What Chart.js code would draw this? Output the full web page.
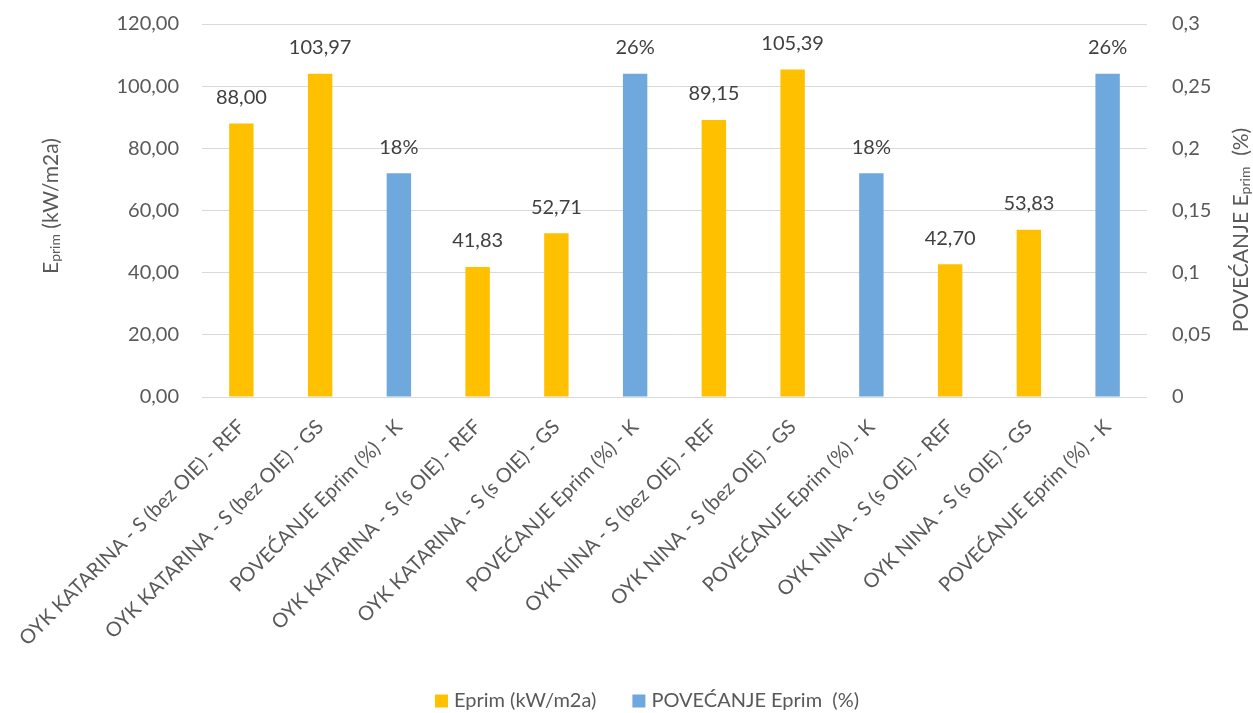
<!DOCTYPE html>
<html>
<head>
<meta charset="utf-8">
<script src="https://cdn.jsdelivr.net/npm/chart.js@4/dist/chart.umd.min.js"></script>
<style>
  html, body { margin: 0; padding: 0; background: #fff; }
  #wrap { width: 1253px; height: 713px; position: relative; }
</style>
</head>
<body>
<div id="wrap"><canvas id="eprim-chart"></canvas></div>
<script>
const categories = [
  'OYK KATARINA - S (bez OIE) - REF',
  'OYK KATARINA - S (bez OIE) - GS',
  'POVEĆANJE Eprim (%) - K',
  'OYK KATARINA - S (s OIE) - REF',
  'OYK KATARINA - S (s OIE) - GS',
  'POVEĆANJE Eprim (%) - K',
  'OYK NINA - S (bez OIE) - REF',
  'OYK NINA - S (bez OIE) - GS',
  'POVEĆANJE Eprim (%) - K',
  'OYK NINA - S (s OIE) - REF',
  'OYK NINA - S (s OIE) - GS',
  'POVEĆANJE Eprim (%) - K'
];
const eprimValues = [88.00, 103.97, null, 41.83, 52.71, null, 89.15, 105.39, null, 42.70, 53.83, null];
const increaseValues = [null, null, 0.18, null, null, 0.26, null, null, 0.18, null, null, 0.26];
const leftTicks = [0, 20, 40, 60, 80, 100, 120];
const rightTicks = [0, 0.05, 0.1, 0.15, 0.2, 0.25, 0.3];

const TEXT = '#595959';
const LABEL = '#404040';
const FONT = 'Lato, "Open Sans", sans-serif';

Chart.defaults.font.family = FONT;
Chart.defaults.color = TEXT;

const comma = (v, d) => v.toFixed(d).replace('.', ',');

// value labels above each bar
const barValues = {
  id: 'barValues',
  afterDatasetsDraw(chart) {
    const ctx = chart.ctx;
    ctx.save();
    ctx.font = '20px ' + FONT;
    ctx.fillStyle = LABEL;
    ctx.textAlign = 'center';
    ctx.textBaseline = 'middle';
    chart.data.datasets.forEach((ds, i) => {
      chart.getDatasetMeta(i).data.forEach((bar, j) => {
        const v = ds.data[j];
        if (v == null) return;
        const txt = i === 0 ? comma(v, 2) : Math.round(v * 100) + '%';
        ctx.fillText(txt, bar.x, bar.y - 26);
      });
    });
    ctx.restore();
  }
};

// rotated axis titles with "prim" subscript
function drawTitle(ctx, cx, cy, pre, post) {
  const big = '21px ' + FONT, small = '14px ' + FONT;
  ctx.font = big;
  const w1 = ctx.measureText(pre).width;
  const w3 = ctx.measureText(post).width;
  ctx.font = small;
  const w2 = ctx.measureText('prim').width;
  const total = w1 + w2 + w3;
  ctx.save();
  ctx.translate(cx, cy);
  ctx.rotate(-Math.PI / 2);
  ctx.fillStyle = TEXT;
  ctx.textBaseline = 'alphabetic';
  ctx.textAlign = 'left';
  let x = -total / 2;
  ctx.font = big;
  ctx.fillText(pre, x, 7);
  x += w1;
  ctx.font = small;
  ctx.fillText('prim', x, 9);
  x += w2;
  ctx.font = big;
  ctx.fillText(post, x, 7);
  ctx.restore();
}

const axisTitles = {
  id: 'axisTitles',
  afterDraw(chart) {
    const ctx = chart.ctx;
    drawTitle(ctx, 51, 206, 'E', ' (kW/m2a)');
    drawTitle(ctx, 1241, 230, 'POVEĆANJE E', '  (%)');
  }
};

// legend row at the bottom
const bottomLegend = {
  id: 'bottomLegend',
  afterDraw(chart) {
    const ctx = chart.ctx;
    const items = chart.data.datasets.map(ds => ({ text: ds.label, color: ds.backgroundColor }));
    ctx.save();
    ctx.font = '20px ' + FONT;
    const box = 13, gap = 6, between = 36;
    const widths = items.map(it => box + gap + ctx.measureText(it.text).width);
    const total = widths.reduce((a, b) => a + b, 0) + between * (items.length - 1);
    let x = 647 - total / 2;
    const cy = 701;
    items.forEach((it, i) => {
      ctx.fillStyle = it.color;
      ctx.fillRect(x, cy - box / 2, box, box);
      ctx.fillStyle = TEXT;
      ctx.textBaseline = 'middle';
      ctx.textAlign = 'left';
      ctx.fillText(it.text, x + box + gap, cy);
      x += widths[i] + between;
    });
    ctx.restore();
  }
};

new Chart(document.getElementById('eprim-chart'), {
  type: 'bar',
  data: {
    labels: categories,
    datasets: [
      {
        label: 'Eprim (kW/m2a)',
        data: eprimValues,
        backgroundColor: '#ffc000',
        yAxisID: 'y',
        grouped: false,
        barPercentage: 0.31,
        categoryPercentage: 1
      },
      {
        label: 'POVEĆANJE Eprim  (%)',
        data: increaseValues,
        backgroundColor: '#6fa8dc',
        yAxisID: 'y1',
        grouped: false,
        barPercentage: 0.31,
        categoryPercentage: 1
      }
    ]
  },
  options: {
    responsive: true,
    maintainAspectRatio: false,
    animation: false,
    layout: { padding: { top: 24, bottom: 0, left: 0, right: 0 } },
    plugins: {
      legend: { display: false },
      tooltip: { enabled: false }
    },
    scales: {
      x: {
        grid: { display: false },
        border: { display: false },
        ticks: {
          autoSkip: false,
          minRotation: 45,
          maxRotation: 45,
          padding: 10,
          color: TEXT,
          font: { size: 20 }
        },
        afterFit(scale) { scale.height = 316; }
      },
      y: {
        position: 'left',
        min: 0,
        max: 120,
        afterBuildTicks(scale) { scale.ticks = leftTicks.map(v => ({ value: v })); },
        // invisible tick marks keep the labels away from the plot
        grid: { color: '#d9d9d9', drawTicks: true, tickLength: 20, tickColor: 'rgba(0,0,0,0)' },
        border: { display: false },
        ticks: {
          padding: 3,
          color: TEXT,
          font: { size: 20 },
          callback: v => comma(v, 2)
        },
        afterFit(scale) { scale.width = 202; }
      },
      y1: {
        position: 'right',
        min: 0,
        max: 0.3,
        afterBuildTicks(scale) { scale.ticks = rightTicks.map(v => ({ value: v })); },
        grid: { drawOnChartArea: false, drawTicks: true, tickLength: 22, tickColor: 'rgba(0,0,0,0)' },
        border: { display: false },
        ticks: {
          padding: 3,
          color: TEXT,
          font: { size: 20 },
          callback: v => String(parseFloat(v.toFixed(2))).replace('.', ',')
        },
        afterFit(scale) { scale.width = 106; }
      }
    }
  },
  plugins: [barValues, axisTitles, bottomLegend]
});
</script>
</body>
</html>
